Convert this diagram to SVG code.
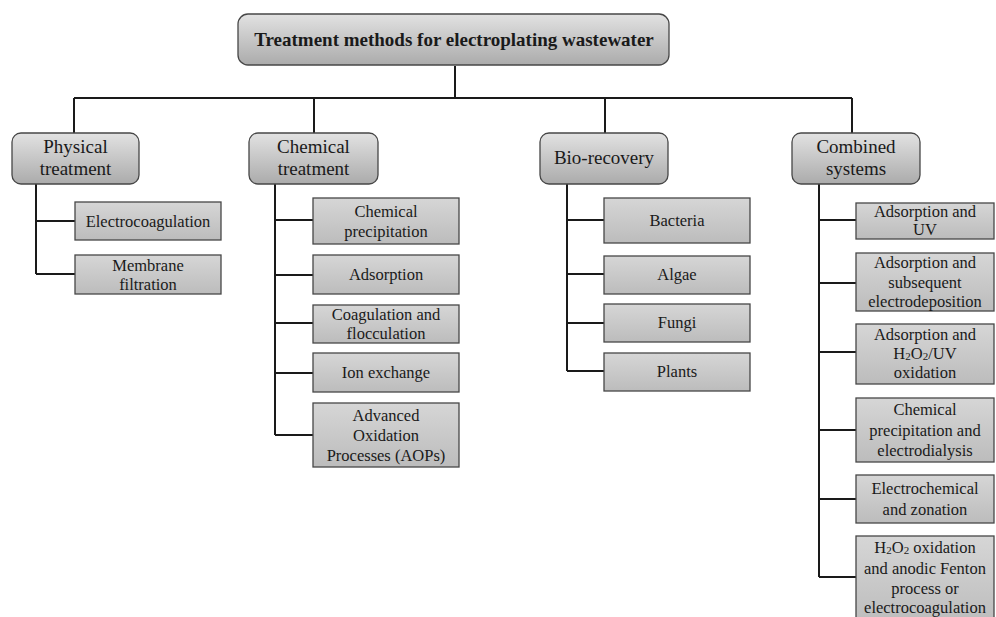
<svg xmlns="http://www.w3.org/2000/svg" width="996" height="617" viewBox="0 0 996 617">
<defs>
<linearGradient id="gp" x1="0" y1="0" x2="0" y2="1">
<stop offset="0" stop-color="#e2e2e2"/>
<stop offset="1" stop-color="#ababab"/>
</linearGradient>
<linearGradient id="gc" x1="0" y1="0" x2="0" y2="1">
<stop offset="0" stop-color="#d6d6d6"/>
<stop offset="1" stop-color="#bcbcbc"/>
</linearGradient>
</defs>
<style>
.p{fill:url(#gp);stroke:#474747;stroke-width:1.3}
.c{fill:url(#gc);stroke:#474747;stroke-width:1.3}
text{font-family:'Liberation Serif','Tinos','Times New Roman','DejaVu Serif',serif;fill:#1a1a1a;text-anchor:middle}
.tt{font-size:19px;font-weight:bold}
.tp{font-size:19px}
.tc{font-size:16.5px}
.s{font-size:11px}
.ln{fill:none;stroke:#1a1a1a;stroke-width:2}
</style>
<rect width="996" height="617" fill="#ffffff"/>
<g id="connectors" class="ln">
<path d="M455 66V98M74 98H852M74 98V133M314 98V133M605 98V133M852 98V133"/>
<path d="M36 184V274M36 221H75M36 274H75"/>
<path d="M275 184V435M275 220H313M275 275H313M275 323H313M275 373H313M275 435H313"/>
<path d="M567 184V371M567 220H604M567 274H604M567 323H604M567 371H604"/>
<path d="M819 184V577M819 220H856M819 283H856M819 352H856M819 430H856M819 499H856M819 577H856"/>
</g>
<g id="root">
<rect class="p" x="238" y="14" width="431" height="51" rx="10"/>
<text class="tt" x="454" y="46" font-family="Liberation Serif, serif">Treatment methods for electroplating wastewater</text>
</g>
<g id="physical">
<rect class="p" x="12" y="133" width="127" height="51" rx="9"/>
<text class="tp" x="75.5" y="153">Physical</text>
<text class="tp" x="75.5" y="175">treatment</text>
</g>
<g id="chemical">
<rect class="p" x="249" y="133" width="129" height="51" rx="9"/>
<text class="tp" x="313.5" y="153">Chemical</text>
<text class="tp" x="313.5" y="175">treatment</text>
</g>
<g id="bio">
<rect class="p" x="540" y="133" width="128" height="51" rx="9"/>
<text class="tp" x="604" y="164">Bio-recovery</text>
</g>
<g id="combined">
<rect class="p" x="792" y="133" width="128" height="51" rx="9"/>
<text class="tp" x="856" y="153">Combined</text>
<text class="tp" x="856" y="175">systems</text>
</g>
<g id="electrocoagulation">
<rect class="c" x="75" y="202" width="146" height="38"/>
<text class="tc" x="148" y="227">Electrocoagulation</text>
</g>
<g id="membrane">
<rect class="c" x="75" y="255" width="146" height="39"/>
<text class="tc" x="148" y="271">Membrane</text>
<text class="tc" x="148" y="290">filtration</text>
</g>
<g id="chemprecip">
<rect class="c" x="313" y="198" width="146" height="46"/>
<text class="tc" x="386" y="217">Chemical</text>
<text class="tc" x="386" y="237">precipitation</text>
</g>
<g id="adsorption">
<rect class="c" x="313" y="255" width="146" height="39"/>
<text class="tc" x="386" y="280">Adsorption</text>
</g>
<g id="coagulation">
<rect class="c" x="313" y="305" width="146" height="38"/>
<text class="tc" x="386" y="320">Coagulation and</text>
<text class="tc" x="386" y="339">flocculation</text>
</g>
<g id="ionexchange">
<rect class="c" x="313" y="353" width="146" height="39"/>
<text class="tc" x="386" y="378">Ion exchange</text>
</g>
<g id="aops">
<rect class="c" x="313" y="403" width="146" height="64"/>
<text class="tc" x="386" y="421">Advanced</text>
<text class="tc" x="386" y="441">Oxidation</text>
<text class="tc" x="386" y="461">Processes (AOPs)</text>
</g>
<g id="bacteria">
<rect class="c" x="604" y="198" width="146" height="45"/>
<text class="tc" x="677" y="226">Bacteria</text>
</g>
<g id="algae">
<rect class="c" x="604" y="256" width="146" height="38"/>
<text class="tc" x="677" y="280">Algae</text>
</g>
<g id="fungi">
<rect class="c" x="604" y="304" width="146" height="38"/>
<text class="tc" x="677" y="328">Fungi</text>
</g>
<g id="plants">
<rect class="c" x="604" y="353" width="146" height="38"/>
<text class="tc" x="677" y="377">Plants</text>
</g>
<g id="adsuv">
<rect class="c" x="856" y="203" width="138" height="36"/>
<text class="tc" x="925" y="217">Adsorption and</text>
<text class="tc" x="925" y="235">UV</text>
</g>
<g id="adselectro">
<rect class="c" x="856" y="253" width="138" height="58"/>
<text class="tc" x="925" y="268">Adsorption and</text>
<text class="tc" x="925" y="288">subsequent</text>
<text class="tc" x="925" y="307">electrodeposition</text>
</g>
<g id="adsh2o2">
<rect class="c" x="856" y="324" width="138" height="60"/>
<text class="tc" x="925" y="340">Adsorption and</text>
<text class="tc" x="925" y="359">H<tspan class="s" dy="1">2</tspan><tspan dy="-1">O</tspan><tspan class="s" dy="1">2</tspan><tspan dy="-1">/UV</tspan></text>
<text class="tc" x="925" y="378">oxidation</text>
</g>
<g id="chemelectrodialysis">
<rect class="c" x="856" y="398" width="138" height="64"/>
<text class="tc" x="925" y="415">Chemical</text>
<text class="tc" x="925" y="436">precipitation and</text>
<text class="tc" x="925" y="456">electrodialysis</text>
</g>
<g id="electrochem">
<rect class="c" x="856" y="475" width="138" height="48"/>
<text class="tc" x="925" y="494">Electrochemical</text>
<text class="tc" x="925" y="515">and zonation</text>
</g>
<g id="h2o2fenton">
<rect class="c" x="856" y="536" width="138" height="90"/>
<text class="tc" x="925" y="553">H<tspan class="s" dy="1">2</tspan><tspan dy="-1">O</tspan><tspan class="s" dy="1">2</tspan><tspan dy="-1"> oxidation</tspan></text>
<text class="tc" x="925" y="574">and anodic Fenton</text>
<text class="tc" x="925" y="594">process or</text>
<text class="tc" x="925" y="613">electrocoagulation</text>
</g>
</svg>
